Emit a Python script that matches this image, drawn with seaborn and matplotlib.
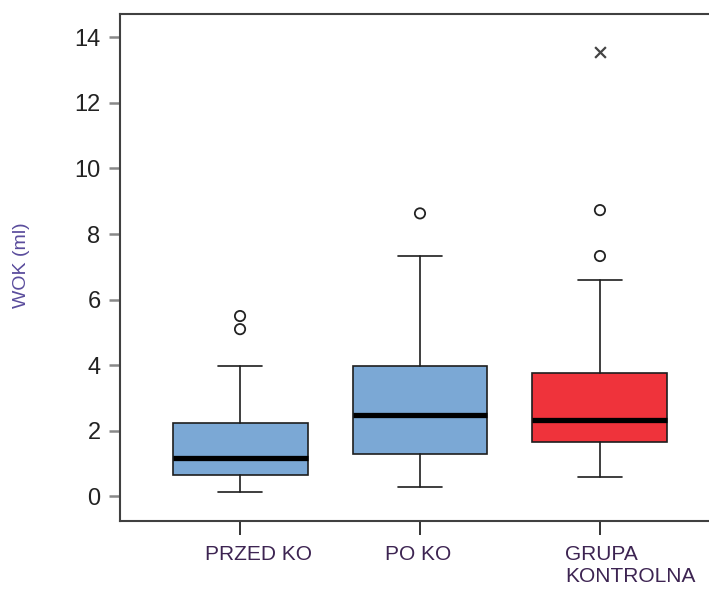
import matplotlib
matplotlib.use("Agg")
import matplotlib.pyplot as plt
import matplotlib.transforms as mtransforms
import seaborn as sns
import pandas as pd

# Groups and box summary statistics (ml)
groups = ["PRZED KO", "PO KO", "GRUPA\nKONTROLNA"]
whisker_low = [0.14, 0.30, 0.59]
q1 = [0.66, 1.30, 1.65]
median = [1.17, 2.48, 2.32]
q3 = [2.24, 3.98, 3.76]
whisker_high = [3.98, 7.34, 6.59]

# Outliers (circles) and extreme values (crosses)
outlier_group = [0, 0, 1, 2, 2]
outlier_value = [5.10, 5.50, 8.63, 7.33, 8.73]
extreme_group = [2]
extreme_value = [13.55]

box_colors = ["#7BA8D5", "#7BA8D5", "#EF333B"]
y_ticks = [0, 2, 4, 6, 8, 10, 12, 14]

sns.set_theme(style="white")
plt.rcParams["font.family"] = ["Liberation Sans", "DejaVu Sans"]

fig = plt.figure(figsize=(7.09, 5.90), dpi=100)
ax = fig.add_axes([120 / 709, 1 - 521 / 590, 589 / 709, 507 / 590])

stats = []
for i in range(len(groups)):
    stats.append(dict(whislo=whisker_low[i], q1=q1[i], med=median[i],
                      q3=q3[i], whishi=whisker_high[i], fliers=[]))

bp = ax.bxp(stats, positions=range(len(groups)), widths=0.75,
            patch_artist=True, showfliers=False, capwidths=0.24,
            boxprops=dict(edgecolor="#1e1e1e", linewidth=1.2),
            medianprops=dict(color="black", linewidth=3.8, solid_capstyle="butt"),
            whiskerprops=dict(color="#1e1e1e", linewidth=1.2),
            capprops=dict(color="#1e1e1e", linewidth=1.2))
for patch, col in zip(bp["boxes"], box_colors):
    patch.set_facecolor(col)

out_df = pd.DataFrame({"pos": outlier_group, "val": outlier_value})
ext_df = pd.DataFrame({"pos": extreme_group, "val": extreme_value})
sns.scatterplot(data=out_df, x="pos", y="val", ax=ax, marker="o", s=55,
                facecolor="none", edgecolor="#222222", linewidth=1.3,
                legend=False, zorder=3)
sns.scatterplot(data=ext_df, x="pos", y="val", ax=ax, marker="x", s=60,
                color="#444444", linewidth=1.6, legend=False, zorder=3)

ax.set_xlim(-0.667, 2.606)
ax.set_ylim(-0.75, 14.71)
ax.set_xlabel("")
ax.set_ylabel("WOK (ml)", fontsize=14, color="#5a4c9c", va="center")
ax.yaxis.set_label_coords(-0.168, 0.505)

ax.set_yticks(y_ticks)
ax.set_yticklabels([str(t) for t in y_ticks], fontsize=17, color="#222222")
ax.set_xticks(range(len(groups)))
ax.set_xticklabels(groups, fontsize=15, color="#3d2452")

ax.tick_params(axis="y", direction="out", length=8, width=1.8,
               color="#888888", pad=6, left=True)
ax.tick_params(axis="x", direction="out", length=10, width=1.2,
               color="#111111", pad=7, bottom=True)

shift = mtransforms.ScaledTranslation(-35 / 100, 0, fig.dpi_scale_trans)
for lab in ax.get_xticklabels():
    lab.set_horizontalalignment("left")
    lab.set_multialignment("left")
    lab.set_transform(lab.get_transform() + shift)

for side in ["left", "bottom", "top"]:
    ax.spines[side].set_visible(True)
    ax.spines[side].set_color("#404040")
    ax.spines[side].set_linewidth(1.5)
ax.spines["right"].set_visible(False)
ax.grid(False)

fig.savefig("out.png", dpi=100)
